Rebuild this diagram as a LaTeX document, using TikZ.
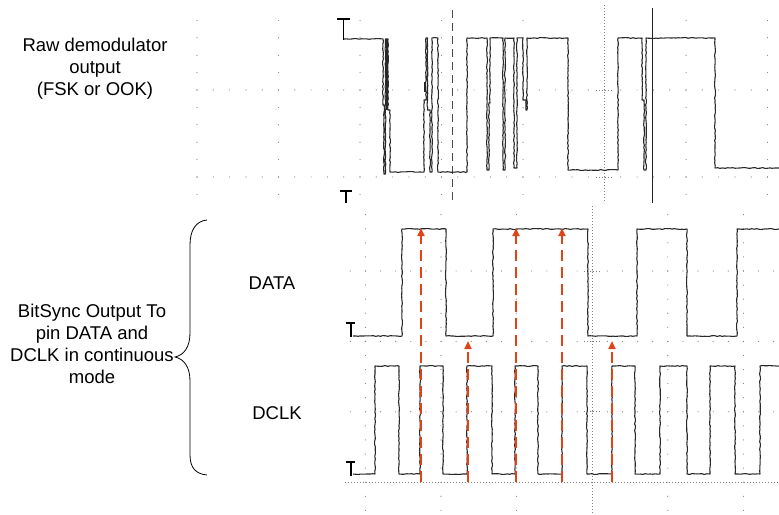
\documentclass[tikz,border=0pt]{standalone}
\usepackage{fontspec}
\setmainfont{Liberation Sans}
\usetikzlibrary{arrows.meta,decorations.pathmorphing}
\definecolor{sigred}{RGB}{224,68,22}
\definecolor{tracec}{RGB}{40,40,40}
\begin{document}
\begin{tikzpicture}[x=1pt,y=-1pt,
  tracepath/.style={draw=tracec,line width=1.1pt,line join=round,
    decorate,decoration={random steps,segment length=2.5pt,amplitude=0.45pt}},
  markline/.style={draw=black,line width=1.8pt},
  gdot/.style={fill=black!50},
  denseline/.style={draw=black!50,line width=0.7pt,dash pattern=on 0.7pt off 2.3pt},
  sigarrow/.style={draw=sigred,line width=2pt,dash pattern=on 11pt off 6pt,-{Triangle[width=7pt,length=8pt]}},
  labeltext/.style={font=\fontsize{18.5}{22}\selectfont,align=center,inner sep=0pt}]
\useasboundingbox (0,0) rectangle (779,514);
\pgfmathsetseed{7}
% ---------- top panel graticule ----------
\foreach \cx in {197,278.5,360,441.5,523,686,767.5}
  \foreach \j in {-4,...,6}
    \fill[gdot] ({\cx},{90+17.4*\j}) circle (0.6pt);
\foreach \ry in {90,177}
  \foreach \i in {0,...,35}
    \fill[gdot] ({197+16.3*\i},\ry) circle (0.6pt);
\draw[denseline] (604.5,5) -- (604.5,203);
\draw[denseline] (596,90) -- (613,90);
\draw[denseline] (596,177) -- (613,177);
% cursors
\draw[draw=black!70,line width=1pt,dash pattern=on 8pt off 5pt] (452,10) -- (452,203);
\draw[draw=black!85,line width=1pt] (652,8) -- (652,203);
% ---------- lower panel graticule ----------
\foreach \cx in {365.4,441,516.6,667.8,743.4}
  \foreach \n in {-4,...,17}
    \fill[gdot] ({\cx},{271+14.08*\n}) circle (0.6pt);
\foreach \ry in {271,341.4,411.8}
  \foreach \i in {0,...,28}
    \fill[gdot] ({350.3+15.12*\i},\ry) circle (0.6pt);
\draw[denseline] (592.2,206) -- (592.2,514);
\draw[denseline] (345,482.2) -- (779,482.2);
\foreach \ry in {271,341.4,411.8}
  \draw[denseline] (584,\ry) -- (600,\ry);
% ---------- markers ----------
\draw[markline] (337,19) -- (350,19) (343.5,19) -- (343.5,40);
\draw[markline] (340,191) -- (352,191) (346,191) -- (346,203);
\draw[markline] (346,323) -- (355,323) (351,323) -- (351,337);
\draw[markline] (346,462) -- (355,462) (351,462) -- (351,476);
% ---------- raw demodulator trace ----------
\draw[tracepath] (344,39) -- (383,39) -- (383,105) -- (384,105) -- (384,174) -- (385.5,174)
  -- (385.5,39) -- (388,39) -- (388,110) -- (390,110) -- (390,172) -- (424,172)
  -- (424,100) -- (426,100) -- (426,38) -- (427.5,38) -- (427.5,110) -- (430,110) -- (430,172)
  -- (432,172) -- (432,38) -- (438,38) -- (438,172) -- (467,172) -- (467,38) -- (487,38)
  -- (487,170) -- (489,170) -- (489,103) -- (490,103) -- (490,38) -- (503,38) -- (503,170)
  -- (505,170) -- (505,38) -- (514,38) -- (514,168) -- (517,168) -- (517,38) -- (523,38)
  -- (523,100) -- (526,100) -- (526,110) -- (527,110) -- (527,38) -- (568,38) -- (568,170)
  -- (618,170) -- (618,38) -- (642,38) -- (642,100) -- (644,100) -- (644,170) -- (646,170)
  -- (646,38) -- (715,38) -- (715,168) -- (779,168);
\draw[draw=tracec,line width=1.8pt] (386.8,39) -- (386.8,110);
\draw[draw=tracec,line width=1.6pt] (425,82) -- (425,92);
% ---------- DATA trace ----------
\draw[tracepath] (353,336) -- (402,336) -- (402,229) -- (446,229) -- (446,336) -- (493,336)
  -- (493,229) -- (588,229) -- (588,336) -- (637,336) -- (637,229) -- (687,229) -- (687,336)
  -- (737,336) -- (737,229) -- (779,229);
% ---------- DCLK trace ----------
\draw[tracepath] (353,474) -- (375,474) -- (375,366) -- (399,366) -- (399,474) -- (420,474)
  -- (420,366) -- (443,366) -- (443,474) -- (467,474) -- (467,366) -- (492,366) -- (492,474)
  -- (515,474) -- (515,366) -- (538,366) -- (538,474) -- (562,474) -- (562,366) -- (587,366)
  -- (587,474) -- (612,474) -- (612,366) -- (635,366) -- (635,474) -- (660,474) -- (660,366)
  -- (687,366) -- (687,474) -- (710,474) -- (710,366) -- (735,366) -- (735,474) -- (760,474)
  -- (760,366) -- (779,366);
% ---------- sampling arrows ----------
\coordinate (s1b) at (421,482); \coordinate (s1t) at (421,228);
\coordinate (s2b) at (468,482); \coordinate (s2t) at (468,341);
\coordinate (s3b) at (516,482); \coordinate (s3t) at (516,228);
\coordinate (s4b) at (562,482); \coordinate (s4t) at (562,228);
\coordinate (s5b) at (612,482); \coordinate (s5t) at (612,341);
\foreach \k in {1,...,5}
  \draw[sigarrow] (s\k b) -- (s\k t);
% ---------- labels ----------
\node[labeltext] (raw) at (95,69) {Raw demodulator\\output\\(FSK or OOK)};
\node[labeltext] (bitsync) at (92,344) {BitSync Output To\\pin DATA and\\DCLK in continuous\\mode};
\node[labeltext] (datalbl) at (272,283) {DATA};
\node[labeltext] (dclklbl) at (277,413) {DCLK};
% ---------- brace ----------
\coordinate (brtop) at (207,220);
\coordinate (brtip) at (175,357);
\coordinate (brbot) at (207,475);
\draw[line width=0.8pt] (brtop) .. controls (196,221) and (190,230) .. (190,245) -- (190,333)
  .. controls (190,347) and (184,355) .. (brtip)
  .. controls (184,359) and (190,367) .. (190,381) -- (190,455)
  .. controls (190,468) and (196,474) .. (brbot);
\end{tikzpicture}
\end{document}
